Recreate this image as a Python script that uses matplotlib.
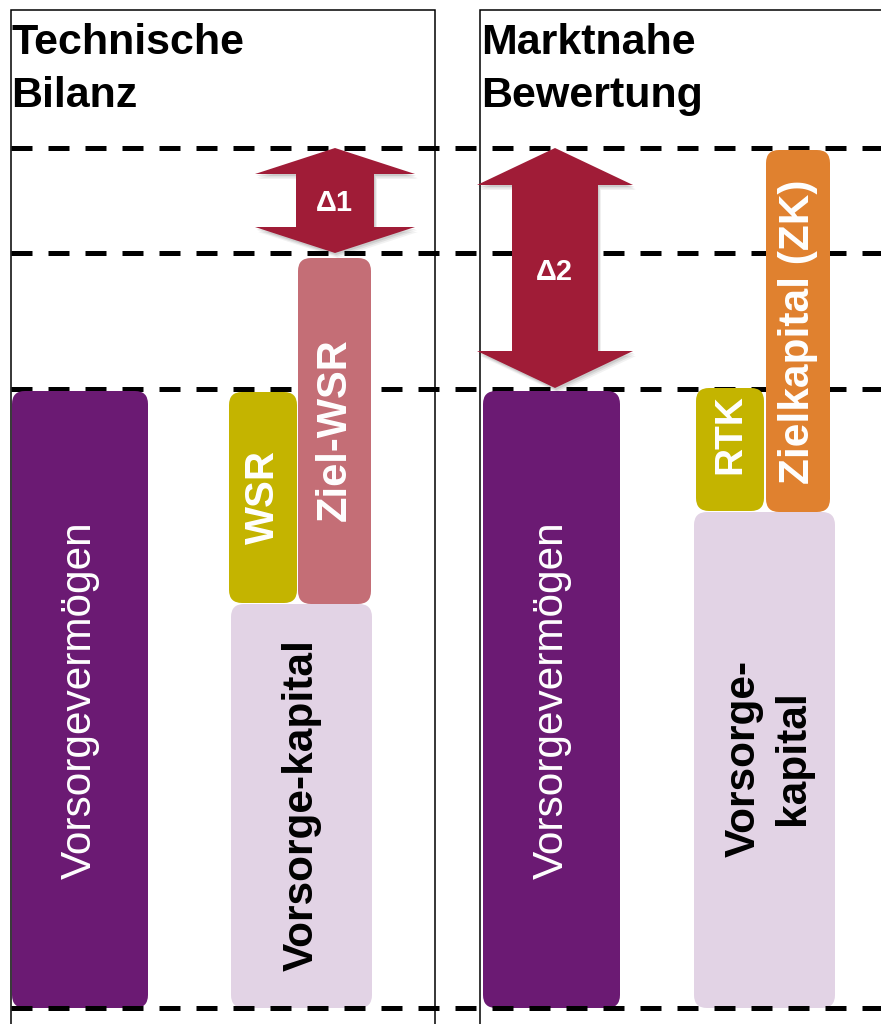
import matplotlib
matplotlib.use("Agg")
import matplotlib.pyplot as plt
from matplotlib.patches import FancyBboxPatch, Polygon, Rectangle

# value scale: 0 = bottom line, pixel-like units going up
levels = [0, 619, 755, 860]          # dashed reference lines

# bars: label, x_left, width, bottom, top, colour, text colour, weight
bar_labels = ["Vorsorgevermögen", "Vorsorge-kapital", "WSR", "Ziel-WSR",
              "Vorsorgevermögen", "Vorsorge-\nkapital", "RTK", "Zielkapital (ZK)"]
bar_x = [12, 231, 229, 298, 483, 694, 696, 766]
bar_w = [136, 141, 68, 73, 137, 141, 68, 64]
bar_bottom = [0, 0, 405, 404, 0, 0, 497, 496]
bar_top = [617, 404, 616, 750, 617, 496, 620, 858]
bar_colors = ["#6B1A73", "#E2D3E5", "#C4B400", "#C46E76",
              "#6B1A73", "#E2D3E5", "#C4B400", "#E0812F"]
text_colors = ["white", "black", "white", "white", "white", "black", "white", "white"]
text_weight = ["normal", "bold", "bold", "bold", "normal", "bold", "bold", "bold"]
text_y = [308, 203, 511, 578, 308, 250, 574, 676]
text_size = [30.5, 30.5, 29, 30, 30.5, 30.5, 28, 30.5]

# delta arrows: label, centre x, low, high, head half width, shaft half width, head length
arrow_labels = ["Δ1", "Δ2"]
arrow_x = [335, 555]
arrow_lo = [755, 620]
arrow_hi = [860, 860]
arrow_head = [80, 78]
arrow_shaft = [39, 43]
arrow_hlen = [26, 37]
arrow_text_y = [805, 736]

titles = ["Technische\nBilanz", "Marktnahe\nBewertung"]
title_x = [11, 481]
panel_x = [11, 480]
panel_w = [424, 420]

red = "#A01C37"
fam = ["Liberation Sans", "DejaVu Sans"]

fig = plt.figure(figsize=(8.81, 10.24), dpi=100)
ax = fig.add_axes([0, 0, 1, 1])
ax.set_xlim(0, 881)
ax.set_ylim(-16, 1008)
ax.axis("off")

# panel frames
for px, pw in zip(panel_x, panel_w):
    ax.add_patch(Rectangle((px, -40), pw, 1038, fill=False, ec="black", lw=1.1, zorder=1))

for t, tx in zip(titles, title_x):
    ax.text(tx, 985, t, ha="left", va="top", fontsize=31, fontweight="bold",
            family=fam, linespacing=1.42, zorder=6)

# bars
for lab, x, w, b, top, c, tc, fw, ty, fs in zip(bar_labels, bar_x, bar_w, bar_bottom, bar_top,
                                               bar_colors, text_colors, text_weight, text_y,
                                               text_size):
    ax.add_patch(FancyBboxPatch((x, b), w, top - b, boxstyle="round,pad=0,rounding_size=13",
                                fc=c, ec="none", zorder=2))
    ax.text(x + w / 2 + (4 if "\n" in lab else 0), ty, lab, rotation=90, ha="center",
            va="center", color=tc, fontsize=fs, fontweight=fw, family=fam,
            linespacing=1.3, zorder=3)

# dashed lines (bottom one sits on top of the bars)
for lv in levels:
    ax.plot([11, 881], [lv, lv], color="black", lw=3.6, dashes=(4.2, 3.2),
            zorder=4 if lv == 0 else 1.5)

# arrows
for lab, cx, lo, hi, hh, sh, hl, ty in zip(arrow_labels, arrow_x, arrow_lo, arrow_hi,
                                           arrow_head, arrow_shaft, arrow_hlen, arrow_text_y):
    pts = [(cx, hi), (cx + hh, hi - hl), (cx + sh, hi - hl), (cx + sh, lo + hl),
           (cx + hh, lo + hl), (cx, lo), (cx - hh, lo + hl), (cx - sh, lo + hl),
           (cx - sh, hi - hl), (cx - hh, hi - hl)]
    for off, a in [(5, 0.05), (3.5, 0.07), (2, 0.09)]:
        shadow = [(px + off * 0.6, py - off) for px, py in pts]
        ax.add_patch(Polygon(shadow, closed=True, fc="black", ec="none", alpha=a, zorder=4.5))
    ax.add_patch(Polygon(pts, closed=True, fc=red, ec="none", zorder=5))
    ax.text(cx - 1, ty, lab, ha="center", va="center",
            color="white", fontsize=21, fontweight="bold", family=fam, zorder=6)

fig.savefig("out.png", dpi=100)
